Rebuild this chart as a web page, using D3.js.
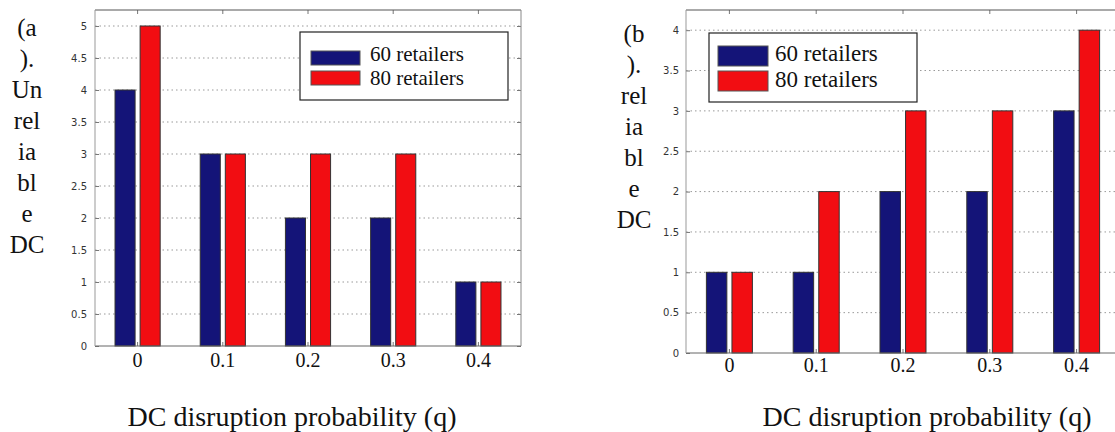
<!DOCTYPE html>
<html>
<head>
<meta charset="utf-8">
<script src="https://cdn.jsdelivr.net/npm/d3@7"></script>
<style>
  body { margin: 0; background: #fff; }
  svg { display: block; }
</style>
</head>
<body>
<div id="chart"></div>
<script>
// categories (DC disruption probability q) and series
var categories = ["0", "0.1", "0.2", "0.3", "0.4"];
var seriesNames = ["60 retailers", "80 retailers"];
var seriesColors = ["#141478", "#f20d12"];

// (a) unreliable DC
var unrel60 = [4, 3, 2, 2, 1];
var unrel80 = [5, 3, 3, 3, 1];
var yTicksA = [0, 0.5, 1, 1.5, 2, 2.5, 3, 3.5, 4, 4.5, 5];

// (b) reliable DC
var rel60 = [1, 1, 2, 2, 3];
var rel80 = [1, 2, 3, 3, 4];
var yTicksB = [0, 0.5, 1, 1.5, 2, 2.5, 3, 3.5, 4];

var labelA = ["(a", ").", "Un", "rel", "ia", "bl", "e", "DC"];
var labelB = ["(b", ").", "rel", "ia", "bl", "e", "DC"];
var xTitle = "DC disruption probability (q)";

var svg = d3.select("#chart").append("svg")
    .attr("width", 1115)
    .attr("height", 432);

function drawPanel(p) {
    var g = svg.append("g");

    // set the ranges
    var x = d3.scaleBand()
        .domain(categories)
        .range([p.left, p.right])
        .padding(0);
    var xs = d3.scaleBand()
        .domain(seriesNames)
        .range([x.bandwidth() * 0.235, x.bandwidth() * 0.765])
        .paddingInner(0.2);
    var y = d3.scaleLinear()
        .domain([0, p.ymax])
        .range([p.bottom, p.top]);

    // dotted grid
    g.selectAll(".grid")
        .data(p.yTicks.filter(function(d) { return d > 0; }))
        .enter().append("line")
        .attr("x1", p.left).attr("x2", p.right)
        .attr("y1", function(d) { return y(d); })
        .attr("y2", function(d) { return y(d); })
        .attr("stroke", "#999")
        .attr("stroke-width", 1)
        .attr("stroke-dasharray", "1.5,3");

    // bars
    var rows = categories.map(function(c, i) {
        return seriesNames.map(function(s, j) {
            return {cat: c, series: s, value: p.values[j][i], color: seriesColors[j]};
        });
    });
    g.selectAll(".grp")
        .data(rows)
        .enter().append("g")
        .attr("transform", function(d) { return "translate(" + x(d[0].cat) + ",0)"; })
        .selectAll("rect")
        .data(function(d) { return d; })
        .enter().append("rect")
        .attr("x", function(d) { return xs(d.series); })
        .attr("width", xs.bandwidth())
        .attr("y", function(d) { return y(d.value); })
        .attr("height", function(d) { return y(0) - y(d.value); })
        .attr("fill", function(d) { return d.color; })
        .attr("stroke", "#333")
        .attr("stroke-width", 1);

    // axes with inward ticks (matlab style)
    var ax = g.append("g")
        .attr("transform", "translate(0," + p.bottom + ")")
        .call(d3.axisBottom(x).tickSizeInner(-4).tickSizeOuter(0).tickPadding(p.xPad));
    ax.selectAll("text")
        .attr("font-family", "Liberation Serif, serif")
        .attr("font-size", 20)
        .attr("fill", "#111");

    var ay = g.append("g")
        .attr("transform", "translate(" + p.left + ",0)")
        .call(d3.axisLeft(y).tickValues(p.yTicks).tickFormat(function(d) { return String(d); })
            .tickSizeInner(-4).tickSizeOuter(0).tickPadding(p.yPad));
    ay.selectAll("text")
        .attr("font-family", "DejaVu Sans, sans-serif")
        .attr("font-size", 10)
        .attr("fill", "#333");

    g.append("g")
        .attr("transform", "translate(0," + p.top + ")")
        .call(d3.axisTop(x).tickSizeInner(-4).tickSizeOuter(0).tickFormat(""));
    g.append("g")
        .attr("transform", "translate(" + p.right + ",0)")
        .call(d3.axisRight(y).tickValues(p.yTicks).tickSizeInner(-4).tickSizeOuter(0).tickFormat(""));

    g.selectAll(".domain").remove();
    g.selectAll(".tick line").attr("stroke", "#777");

    // box
    g.append("line").attr("x1", p.left).attr("x2", p.right).attr("y1", p.top).attr("y2", p.top)
        .attr("stroke", "#555");
    g.append("line").attr("x1", p.left).attr("x2", p.right).attr("y1", p.bottom).attr("y2", p.bottom)
        .attr("stroke", "#666");
    g.append("line").attr("x1", p.left).attr("x2", p.left).attr("y1", p.top).attr("y2", p.bottom)
        .attr("stroke", "#999");
    g.append("line").attr("x1", p.right).attr("x2", p.right).attr("y1", p.top).attr("y2", p.bottom)
        .attr("stroke", "#888");

    // legend
    var lg = g.append("g");
    lg.append("rect")
        .attr("x", p.leg.x).attr("y", p.leg.y)
        .attr("width", p.leg.w).attr("height", p.leg.h)
        .attr("fill", "#fff").attr("stroke", "#222").attr("stroke-width", 1.2);
    seriesNames.forEach(function(s, j) {
        lg.append("rect")
            .attr("x", p.leg.sx).attr("y", p.leg.sy[j])
            .attr("width", p.leg.sw).attr("height", p.leg.sh)
            .attr("fill", seriesColors[j]).attr("stroke", "#555");
        lg.append("text")
            .attr("x", p.leg.tx).attr("y", p.leg.ty[j])
            .attr("font-family", "Liberation Serif, serif")
            .attr("font-size", p.leg.fs)
            .attr("fill", "#111")
            .text(s);
    });

    // stacked y label
    g.selectAll(".ylab")
        .data(p.label)
        .enter().append("text")
        .attr("x", p.labX)
        .attr("y", function(d, i) { return p.labY + i * 31; })
        .attr("text-anchor", "middle")
        .attr("font-family", "Liberation Serif, serif")
        .attr("font-size", 25)
        .attr("fill", "#111")
        .text(function(d) { return d; });

    // x title
    g.append("text")
        .attr("x", p.titleX).attr("y", 426)
        .attr("text-anchor", "middle")
        .attr("font-family", "Liberation Serif, serif")
        .attr("font-size", 28)
        .attr("fill", "#111")
        .text(xTitle);
}

drawPanel({
    left: 95, right: 521, top: 10, bottom: 346, ymax: 5.25,
    values: [unrel60, unrel80], yTicks: yTicksA, xPad: 7, yPad: 8,
    leg: {x: 300, y: 32, w: 208, h: 68, sx: 311, sw: 49, sh: 14, sy: [51, 71], tx: 370, ty: [61, 85], fs: 21},
    label: labelA, labX: 27, labY: 36, titleX: 292
});

drawPanel({
    left: 686, right: 1120, top: 10, bottom: 353, ymax: 4.25,
    values: [rel60, rel80], yTicks: yTicksB, xPad: 5, yPad: 7,
    leg: {x: 709, y: 33, w: 208, h: 69, sx: 718, sw: 50, sh: 20, sy: [46, 71], tx: 775, ty: [61, 87], fs: 23},
    label: labelB, labX: 634, labY: 42, titleX: 927
});
</script>
</body>
</html>
